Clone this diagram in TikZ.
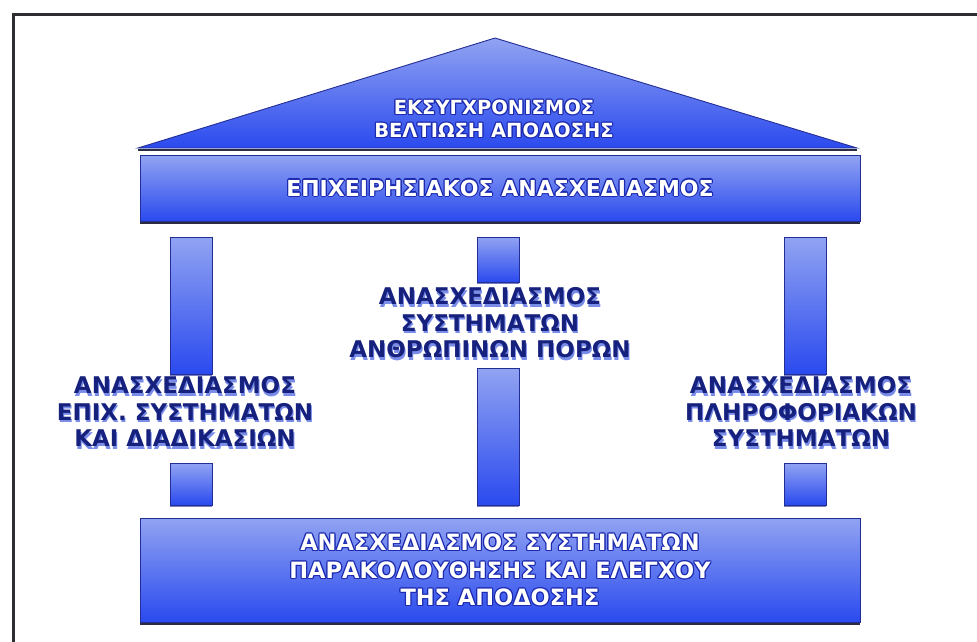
\documentclass[tikz,border=0pt]{standalone}
\usepackage{fontspec}
\setmainfont{DejaVu Sans}
\usetikzlibrary{shadows}

\definecolor{frameline}{RGB}{45,45,50}
\definecolor{edgeblue}{RGB}{35,45,150}
\definecolor{lightfill}{RGB}{145,163,242}
\definecolor{deepfill}{RGB}{42,74,238}
\definecolor{haloblue}{RGB}{28,42,175}
\definecolor{labelnavy}{RGB}{22,32,125}
\definecolor{labelglow}{RGB}{120,140,232}
\definecolor{shadowdark}{RGB}{20,20,45}

% white lettering with a blue rim
\newcommand\halocopy[3]{\rlap{\hspace*{#1}\raisebox{#2}{\textcolor{haloblue}{#3}}}}
\newcommand\halo[1]{%
  \halocopy{1.2pt}{0pt}{#1}\halocopy{-1.2pt}{0pt}{#1}%
  \halocopy{0pt}{1.2pt}{#1}\halocopy{0pt}{-1.2pt}{#1}%
  \halocopy{.85pt}{.85pt}{#1}\halocopy{-.85pt}{.85pt}{#1}%
  \halocopy{.85pt}{-.85pt}{#1}\halocopy{-.85pt}{-.85pt}{#1}#1}
% navy lettering with a soft blue shadow
\newcommand\glowed[1]{\rlap{\hspace*{1pt}\raisebox{-2.4pt}{\textcolor{labelglow}{#1}}}#1}

\tikzset{
  blockfill/.style={draw=edgeblue, line width=0.9pt,
    top color=lightfill, bottom color=deepfill},
  slab/.style={blockfill, rectangle, inner sep=0pt,
    drop shadow={shadow xshift=0pt, shadow yshift=-3pt, fill=shadowdark, opacity=.9}},
  pillar/.style={blockfill, rectangle, inner sep=0pt, minimum width=42pt,
    drop shadow={shadow xshift=0pt, shadow yshift=-1.5pt, fill=edgeblue, opacity=.6}},
  whitetext/.style={text=white, align=center, inner sep=0pt,
    font=\fontsize{22pt}{24pt}\selectfont\bfseries},
  navytext/.style={text=labelnavy, align=center, inner sep=0pt,
    font=\fontsize{23pt}{26.5pt}\selectfont\bfseries},
}

\begin{document}
\begin{tikzpicture}[x=1pt, y=-1pt]
  \useasboundingbox (0,0) rectangle (977,641);
  \fill[white] (0,0) rectangle (977,641);

  % page frame, open towards the right and bottom edges
  \draw[frameline, line width=3pt] (13,643) -- (13,14) -- (979,14);

  % roof
  \coordinate (roofL) at (138,148);
  \coordinate (roofT) at (495,38);
  \coordinate (roofR) at (857,148);
  \fill[shadowdark, opacity=.9] ([yshift=-3pt]roofL) -- ([yshift=-3pt]roofR)
     -- ([yshift=-1pt]roofR) -- ([yshift=-1pt]roofL) -- cycle;
  \draw[blockfill] (roofL) -- (roofT) -- (roofR) -- cycle;
  \node[whitetext, font=\fontsize{19.5pt}{23pt}\selectfont\bfseries] (roofText) at (494,119)
    {\halo{ΕΚΣΥΓΧΡΟΝΙΣΜΟΣ}\\\halo{ΒΕΛΤΙΩΣΗ ΑΠΟΔΟΣΗΣ}};

  % entablature
  \node[slab, minimum width=720pt, minimum height=66pt] (band) at (500,188) {};
  \node[whitetext] (bandText) at (band.center) {\halo{ΕΠΙΧΕΙΡΗΣΙΑΚΟΣ ΑΝΑΣΧΕΔΙΑΣΜΟΣ}};

  % columns
  \node[pillar, minimum height=137pt] (leftUpper)   at (191,305.5) {};
  \node[pillar, minimum height=42pt]  (leftLower)   at (191,484) {};
  \node[pillar, minimum height=45pt]  (midUpper)    at (498,259.5) {};
  \node[pillar, minimum height=137pt] (midLower)    at (498,436.5) {};
  \node[pillar, minimum height=137pt] (rightUpper)  at (805,305.5) {};
  \node[pillar, minimum height=42pt]  (rightLower)  at (805,484) {};

  % column labels
  \node[navytext] (midLabel) at (490,324)
    {\glowed{ΑΝΑΣΧΕΔΙΑΣΜΟΣ}\\\glowed{ΣΥΣΤΗΜΑΤΩΝ}\\\glowed{ΑΝΘΡΩΠΙΝΩΝ ΠΟΡΩΝ}};
  \node[navytext] (leftLabel) at (185,413)
    {\glowed{ΑΝΑΣΧΕΔΙΑΣΜΟΣ}\\\glowed{ΕΠΙΧ. ΣΥΣΤΗΜΑΤΩΝ}\\\glowed{ΚΑΙ ΔΙΑΔΙΚΑΣΙΩΝ}};
  \node[navytext] (rightLabel) at (801,413)
    {\glowed{ΑΝΑΣΧΕΔΙΑΣΜΟΣ}\\\glowed{ΠΛΗΡΟΦΟΡΙΑΚΩΝ}\\\glowed{ΣΥΣΤΗΜΑΤΩΝ}};

  % base
  \node[slab, minimum width=720pt, minimum height=104pt] (base) at (500,570) {};
  \node[whitetext, font=\fontsize{22.5pt}{27.5pt}\selectfont\bfseries] (baseText) at (base.center)
    {\halo{ΑΝΑΣΧΕΔΙΑΣΜΟΣ ΣΥΣΤΗΜΑΤΩΝ}\\\halo{ΠΑΡΑΚΟΛΟΥΘΗΣΗΣ ΚΑΙ ΕΛΕΓΧΟΥ}\\\halo{ΤΗΣ ΑΠΟΔΟΣΗΣ}};
\end{tikzpicture}
\end{document}
